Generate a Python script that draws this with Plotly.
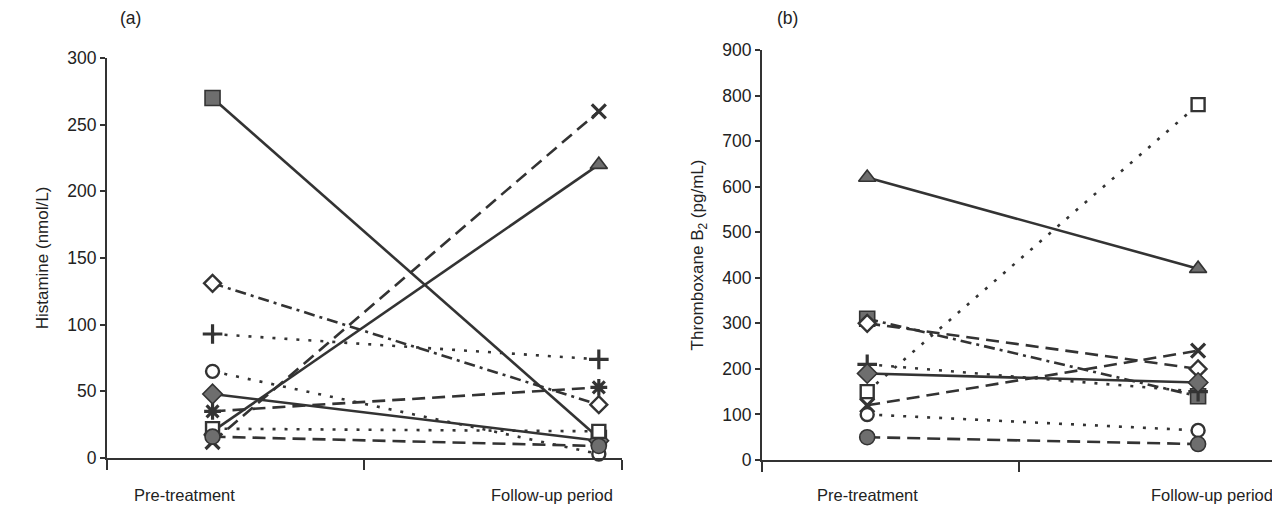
import plotly.graph_objects as go

# ---------------- data ----------------
periods = ["Pre-treatment", "Follow-up period"]

# panel (a) Histamine (nmol/L): [pre, follow-up]
a_symbols = ["square", "triangle-up", "x-thin", "diamond-open", "cross-thin",
             "circle-open", "diamond", "asterisk", "square-open", "circle"]
a_dashes = ["solid", "solid", "longdash", "dashdot", "dot", "dot", "solid", "longdash", "dot", "longdash"]
a_pre = [270, 20, 12, 131, 93, 65, 48, 35, 22, 16]
a_post = [15, 220, 260, 40, 74, 3, 13, 53, 20, 9]

# panel (b) Thromboxane B2 (pg/mL): [pre, follow-up]
b_symbols = ["triangle-up", "square-open", "square", "diamond-open", "cross-thin",
             "diamond", "x-thin", "circle-open", "circle"]
b_dashes = ["solid", "dot", "dashdot", "longdash", "dot", "solid", "longdash", "dot", "longdash"]
b_pre = [620, 150, 310, 300, 210, 190, 120, 100, 50]
b_post = [420, 780, 140, 200, 150, 170, 240, 65, 35]

a_xpos = [0.41, 1.91]
b_xpos = [0.41, 1.70]
label_pos_a = [0.30, 1.73]
label_pos_b = [0.41, 1.754]

a_ticks = [0, 50, 100, 150, 200, 250, 300]
b_ticks = [0, 100, 200, 300, 400, 500, 600, 700, 800, 900]

# ---------------- style ----------------
LINE = "#333333"
FILL = "#6e6e6e"
FONT = "Liberation Sans, Arial, sans-serif"
dash_map = {"solid": "solid", "dot": "3px,9px", "longdash": "13px,7px",
            "dashdot": "11px,5px,3px,5px"}

fig = go.Figure()


def marker_for(s):
    if s.endswith("-open"):
        base = s[:-5]
        return dict(symbol=base, size=13, color="white", line=dict(color=LINE, width=2.4))
    if s in ("x-thin", "cross-thin", "asterisk"):
        return dict(symbol=s, size=14, color=LINE, line=dict(color=LINE, width=3.2))
    return dict(symbol=s, size=15, color=FILL, line=dict(color=LINE, width=1.6))


def add_series(xref, yref, xpos, pre, post, symbols, dashes):
    for s, d, p0, p1 in zip(symbols, dashes, pre, post):
        fig.add_trace(go.Scatter(
            x=xpos, y=[p0, p1], xaxis=xref, yaxis=yref,
            mode="lines+markers", showlegend=False, cliponaxis=False,
            line=dict(color=LINE, width=2.6, dash=dash_map[d]),
            marker=marker_for(s),
        ))


add_series("x", "y", a_xpos, a_pre, a_post, a_symbols, a_dashes)
add_series("x2", "y2", b_xpos, b_pre, b_post, b_symbols, b_dashes)

axfont = dict(family=FONT, size=17.5, color="#222222")
labfont = dict(family=FONT, size=16.5, color="#222222")
titlefont = dict(family=FONT, size=17, color="#222222")
common_x = dict(range=[0, 2], tickvals=[0, 1, 2], showticklabels=False, ticks="outside",
                ticklen=10, tickwidth=1.8, tickcolor=LINE, showline=True, linecolor=LINE,
                linewidth=1.8, showgrid=False, zeroline=False, fixedrange=True,
                automargin=False)
common_y = dict(ticks="outside", ticklen=5, tickwidth=1.5, tickcolor=LINE, showline=True,
                linecolor=LINE, linewidth=2, showgrid=False, zeroline=False,
                tickfont=axfont, fixedrange=True, automargin=False)

# page body has an 8px margin, so the figure is 8px smaller than the window
fig.update_layout(
    width=1272, height=501,
    margin=dict(l=0, r=0, t=0, b=0, autoexpand=False),
    paper_bgcolor="white", plot_bgcolor="white",
    font=dict(family=FONT, color="#222222"),
    xaxis=dict(domain=[0.0778, 0.4827], anchor="y", **common_x),
    yaxis=dict(domain=[0.1018, 0.9002], anchor="x", range=[0, 300], tickvals=a_ticks,
               title=dict(text="Histamine (nmol/L)", font=titlefont, standoff=14), **common_y),
    xaxis2=dict(domain=[0.5928, 0.9961], anchor="y2", **common_x),
    yaxis2=dict(domain=[0.0978, 0.9162], anchor="x2", range=[0, 900], tickvals=b_ticks,
                title=dict(text="Thromboxane B<sub>2</sub> (pg/mL)", font=titlefont, standoff=14),
                **common_y),
    # inward half of the crossing y ticks
    yaxis3=dict(overlaying="y", anchor="x", side="left", range=[0, 300], tickvals=a_ticks,
                ticks="inside", ticklen=6, tickwidth=1.5, tickcolor=LINE, automargin=False,
                showticklabels=False, showgrid=False, zeroline=False, showline=False),
    yaxis4=dict(overlaying="y2", anchor="x2", side="left", range=[0, 900], tickvals=b_ticks,
                ticks="inside", ticklen=6, tickwidth=1.5, tickcolor=LINE, automargin=False,
                showticklabels=False, showgrid=False, zeroline=False, showline=False),
)

annots = []
for xp, t in zip(label_pos_a, periods):
    annots.append(dict(x=xp, y=0.028, xref="x", yref="paper", text=t, showarrow=False,
                       font=labfont, yanchor="middle"))
for xp, t in zip(label_pos_b, periods):
    annots.append(dict(x=xp, y=0.028, xref="x2", yref="paper", text=t, showarrow=False,
                       font=labfont, yanchor="middle"))
annots.append(dict(x=0.0865, y=0.98, xref="paper", yref="paper", text="(a)", showarrow=False,
                   font=axfont, xanchor="left", yanchor="middle"))
annots.append(dict(x=0.603, y=0.98, xref="paper", yref="paper", text="(b)", showarrow=False,
                   font=axfont, xanchor="left", yanchor="middle"))
fig.update_layout(annotations=annots)

fig.write_html("out.html")
